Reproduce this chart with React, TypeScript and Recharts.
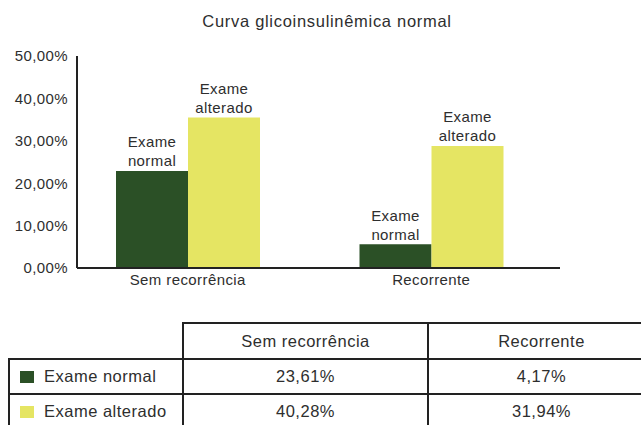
import React from "react";
import { BarChart, Bar, XAxis, YAxis, LabelList } from "recharts";

const title = "Curva glicoinsulinêmica normal";
const categories = ["Sem recorrência", "Recorrente"];
const seriesNames = ["Exame normal", "Exame alterado"];
const normalValues = [22.9, 5.6];
const alteradoValues = [35.5, 28.8];
const yTicks = [0, 10, 20, 30, 40, 50];
const tableNormal = ["23,61%", "4,17%"];
const tableAlterado = ["40,28%", "31,94%"];

const GREEN = "#2b5026";
const YELLOW = "#e5e563";
const TEXT = "#2e2e2e";
const FONT = "'Liberation Sans', Arial, Helvetica, sans-serif";

const data = categories.map((c, i) => ({
  cat: c,
  normal: normalValues[i],
  alterado: alteradoValues[i],
}));

const fmt = (v: number) => v.toFixed(2).replace(".", ",") + "%";

const makeLabel = (name: string) => (props: any) => {
  const { x, y, width } = props;
  const [l1, l2] = name.split(" ");
  const cx = Number(x) + Number(width) / 2;
  const top = Number(y);
  return (
    <text textAnchor="middle" fill={TEXT} fontSize={15} fontFamily={FONT} letterSpacing={0.4}>
      <tspan x={cx} y={top - 29} dy="0.35em">{l1}</tspan>
      <tspan x={cx} y={top - 10} dy="0.35em">{l2}</tspan>
    </text>
  );
};

const border = "2px solid #222";

export default function App() {
  const cellBase: React.CSSProperties = {
    border,
    padding: 0,
    textAlign: "center",
    color: TEXT,
    fontSize: 16.5,
    letterSpacing: 0.5,
    fontFamily: FONT,
  };
  const rows = [
    { name: seriesNames[0], color: GREEN, vals: tableNormal },
    { name: seriesNames[1], color: YELLOW, vals: tableAlterado },
  ];
  return (
    <div style={{ position: "absolute", left: 0, top: 0, width: 641, height: 425, overflow: "hidden", background: "#fff", fontFamily: FONT }}>
      <div style={{ position: "absolute", left: 0, top: 12, width: 654, textAlign: "center", fontSize: 16.5, letterSpacing: 0.7, color: TEXT }}>
        {title}
      </div>
      <div style={{ position: "absolute", left: 0, top: 0 }}>
        <BarChart width={641} height={300} data={data} margin={{ top: 56, right: 81, left: 0, bottom: 0 }} barCategoryGap={50} barGap={0}>
          <XAxis
            dataKey="cat"
            height={32}
            padding={{ left: -11, right: 7 }}
            axisLine={{ stroke: "#222", strokeWidth: 2 }}
            tickLine={false}
            tickSize={0}
            tickMargin={6}
            tick={{ fill: TEXT, fontSize: 15, fontFamily: FONT, letterSpacing: 0.4 }}
          />
          <YAxis
            width={77}
            domain={[0, 50]}
            ticks={yTicks}
            tickFormatter={fmt}
            axisLine={{ stroke: "#222", strokeWidth: 2 }}
            tickLine={false}
            tickSize={0}
            tickMargin={9}
            tick={{ fill: TEXT, fontSize: 15, fontFamily: FONT, letterSpacing: 0.4 }}
          />
          <Bar dataKey="normal" fill={GREEN} isAnimationActive={false}>
            <LabelList dataKey="normal" content={makeLabel(seriesNames[0])} />
          </Bar>
          <Bar dataKey="alterado" fill={YELLOW} isAnimationActive={false}>
            <LabelList dataKey="alterado" content={makeLabel(seriesNames[1])} />
          </Bar>
        </BarChart>
      </div>
      <table
        style={{
          position: "absolute",
          left: 8,
          top: 322,
          borderCollapse: "collapse",
          tableLayout: "fixed",
          width: 646,
        }}
      >
        <colgroup>
          <col style={{ width: 174 }} />
          <col style={{ width: 245 }} />
          <col style={{ width: 227 }} />
        </colgroup>
        <tbody>
          <tr style={{ height: 36 }}>
            <td style={{ ...cellBase, borderTop: "none", borderLeft: "none" }}></td>
            {categories.map((c) => (
              <td key={c} style={cellBase}>{c}</td>
            ))}
          </tr>
          {rows.map((r) => (
            <tr key={r.name} style={{ height: 35 }}>
              <td style={{ ...cellBase, textAlign: "left", paddingLeft: 10, whiteSpace: "nowrap" }}>
                <span style={{ display: "inline-block", width: 14, height: 12, background: r.color, marginRight: 10, verticalAlign: "-1px" }} />
                {r.name}
              </td>
              {r.vals.map((v, i) => (
                <td key={i} style={cellBase}>{v}</td>
              ))}
            </tr>
          ))}
        </tbody>
      </table>
    </div>
  );
}
